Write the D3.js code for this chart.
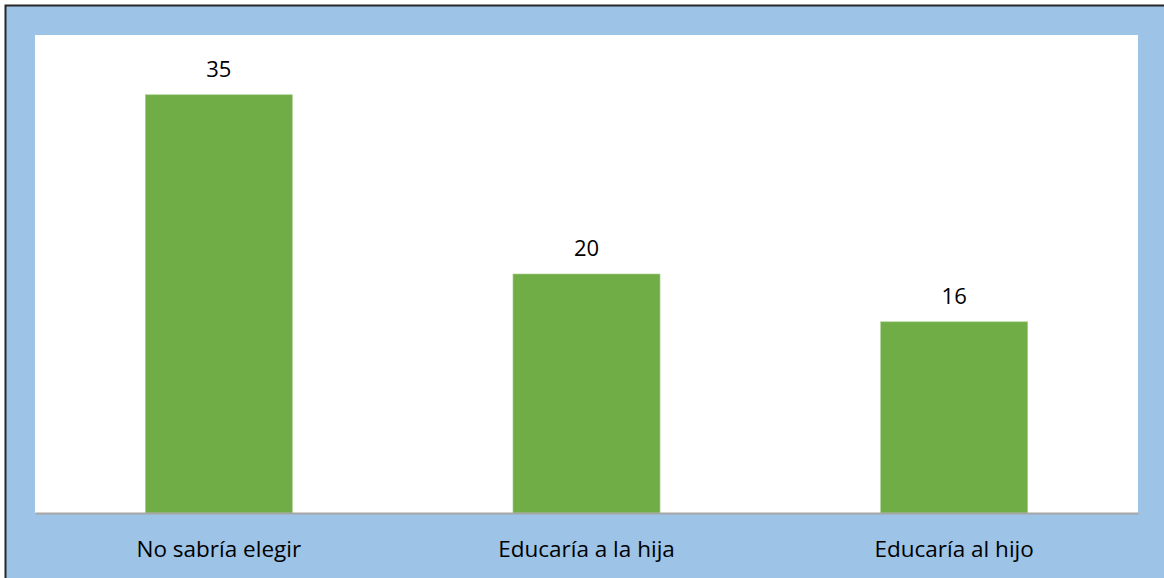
<!DOCTYPE html>
<html>
<head>
<meta charset="utf-8">
<script src="https://cdn.jsdelivr.net/npm/d3@7"></script>
<style>
  body { margin: 0; background: #fff; }
  text { font-family: "Open Sans", "Noto Sans", sans-serif; fill: #000; }
</style>
</head>
<body>
<div id="chart"></div>
<script>
const categories = ["No sabría elegir", "Educaría a la hija", "Educaría al hijo"];
const values = [35, 20, 16];

const W = 1164, H = 578;
const plot = { left: 35, right: 1138, top: 35, bottom: 513 };

const svg = d3.select("#chart").append("svg")
  .attr("width", W)
  .attr("height", H);

// outer frame + blue chart background
svg.append("rect")
  .attr("x", 5.5).attr("y", 5.5)
  .attr("width", W + 20).attr("height", H + 20)
  .attr("fill", "#9DC3E6")
  .attr("stroke", "#262626")
  .attr("stroke-width", 2);

// white plot area
svg.append("rect")
  .attr("x", plot.left).attr("y", plot.top)
  .attr("width", plot.right - plot.left)
  .attr("height", plot.bottom - plot.top)
  .attr("fill", "#fff");

let x = d3.scaleBand()
  .domain(categories)
  .range([plot.left, plot.right])
  .paddingInner(0.6)
  .paddingOuter(0.3);

let y = d3.scaleLinear()
  .domain([0, 40])
  .range([plot.bottom, plot.top]);

const data = categories.map((c, i) => ({ cat: c, val: values[i] }));

svg.selectAll(".bar")
  .data(data)
  .enter()
  .append("rect")
  .attr("class", "bar")
  .attr("x", d => x(d.cat))
  .attr("y", d => y(d.val))
  .attr("width", x.bandwidth())
  .attr("height", d => y(0) - y(d.val))
  .attr("fill", "#70AD47")
  .attr("stroke", "#A9D18E")
  .attr("stroke-width", 0.6);

// value labels
svg.selectAll(".val")
  .data(data)
  .enter()
  .append("text")
  .attr("class", "val")
  .attr("x", d => x(d.cat) + x.bandwidth() / 2)
  .attr("y", d => y(d.val) - 18)
  .attr("text-anchor", "middle")
  .style("font-size", "22px")
  .text(d => d.val);

// category axis
const axis = svg.append("g")
  .attr("transform", "translate(0," + plot.bottom + ")")
  .call(d3.axisBottom(x).tickSize(0).tickPadding(28));
axis.select(".domain")
  .attr("stroke", "#A6A6A6")
  .attr("stroke-width", 2);
axis.selectAll("text")
  .style("font-size", "22.5px")
  .style("font-family", "\"Open Sans\", \"Noto Sans\", sans-serif")
  .attr("fill", "#000");
</script>
</body>
</html>
